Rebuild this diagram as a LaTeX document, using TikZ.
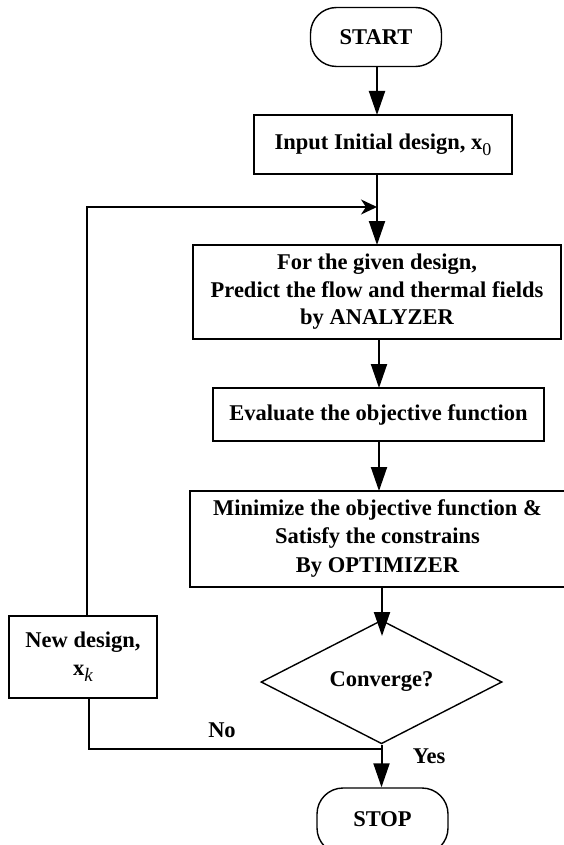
\documentclass[tikz,border=0pt]{standalone}
\usepackage{fontspec}
\setmainfont{Liberation Serif}
\usetikzlibrary{arrows.meta,shapes.geometric}

% bold x with a plain upright subscript
\newcommand{\vecsub}[1]{x\raisebox{-0.28em}{\fontsize{18}{18}\selectfont\mdseries #1}}

\begin{document}
\begin{tikzpicture}[x=1pt,y=-1pt,
  font=\fontsize{22.5}{27.5}\selectfont\bfseries,
  procbox/.style={draw, line width=1.4pt, rectangle, inner sep=0pt, align=center},
  termbox/.style={draw, line width=1.4pt, rectangle, rounded corners=26pt, inner sep=0pt,
                  minimum width=131pt, minimum height=59pt},
  decbox/.style={draw, line width=1.4pt, diamond, inner sep=0pt},
  flow/.style={line width=2pt, -{Triangle[length=24pt,width=16pt]}},
  loopflow/.style={line width=2pt, -{Stealth[length=16pt,width=15pt,inset=5pt]}},
  plain/.style={line width=2pt}]

\useasboundingbox (0,0) rectangle (564,845);

% process nodes
\node[termbox] (start) at (376,37) {START};
\node[procbox, minimum width=258pt, minimum height=59pt] (input) at (383,144.5)
  {Input Initial design, \vecsub{0}};
\node[procbox, minimum width=368pt, minimum height=94pt] (given) at (377,292)
  {For the given design,\\Predict the flow and thermal fields\\by ANALYZER};
\node[procbox, minimum width=331pt, minimum height=53pt] (eval) at (378.5,414.5)
  {Evaluate the objective function};
\node[procbox, minimum width=375pt, minimum height=96pt] (minim) at (377.5,539)
  {Minimize the objective function \&\\Satisfy the constrains\\[2pt]By OPTIMIZER};
\node[decbox, minimum width=241pt, minimum height=92pt] (conv) at (381.5,682) {Converge?};
\node[procbox, minimum width=148pt, minimum height=82pt] (newd) at (83,657)
  {New design,\\x\raisebox{-0.28em}{\fontsize{19}{19}\selectfont\mdseries\itshape k}};
\node[termbox, minimum height=66pt] (stop) at (382.5,821) {\raisebox{4pt}{STOP}};

% branch labels
\node (no) at (222,730) {No};
\node (yes) at (429,756) {Yes};

% junction points on the main line
\coordinate (join) at (377,207);
\coordinate (merge) at (382,749);

% main flow
\draw[flow] (377,66.5) -- (377,115);
\draw[flow] (377,174) -- (377,245);
\draw[flow] (379,339) -- (379,388);
\draw[flow] (379,441) -- (379,491);
\draw[flow] (382,587) -- (382,636);
\draw[flow] (conv.south) -- (conv.south |- stop.north);

% "No" branch back to the analyzer
\draw[plain] (merge) -| ([xshift=6pt]newd.south);
\draw[loopflow] ([xshift=4pt]newd.north) |- (join);
\end{tikzpicture}
\end{document}
